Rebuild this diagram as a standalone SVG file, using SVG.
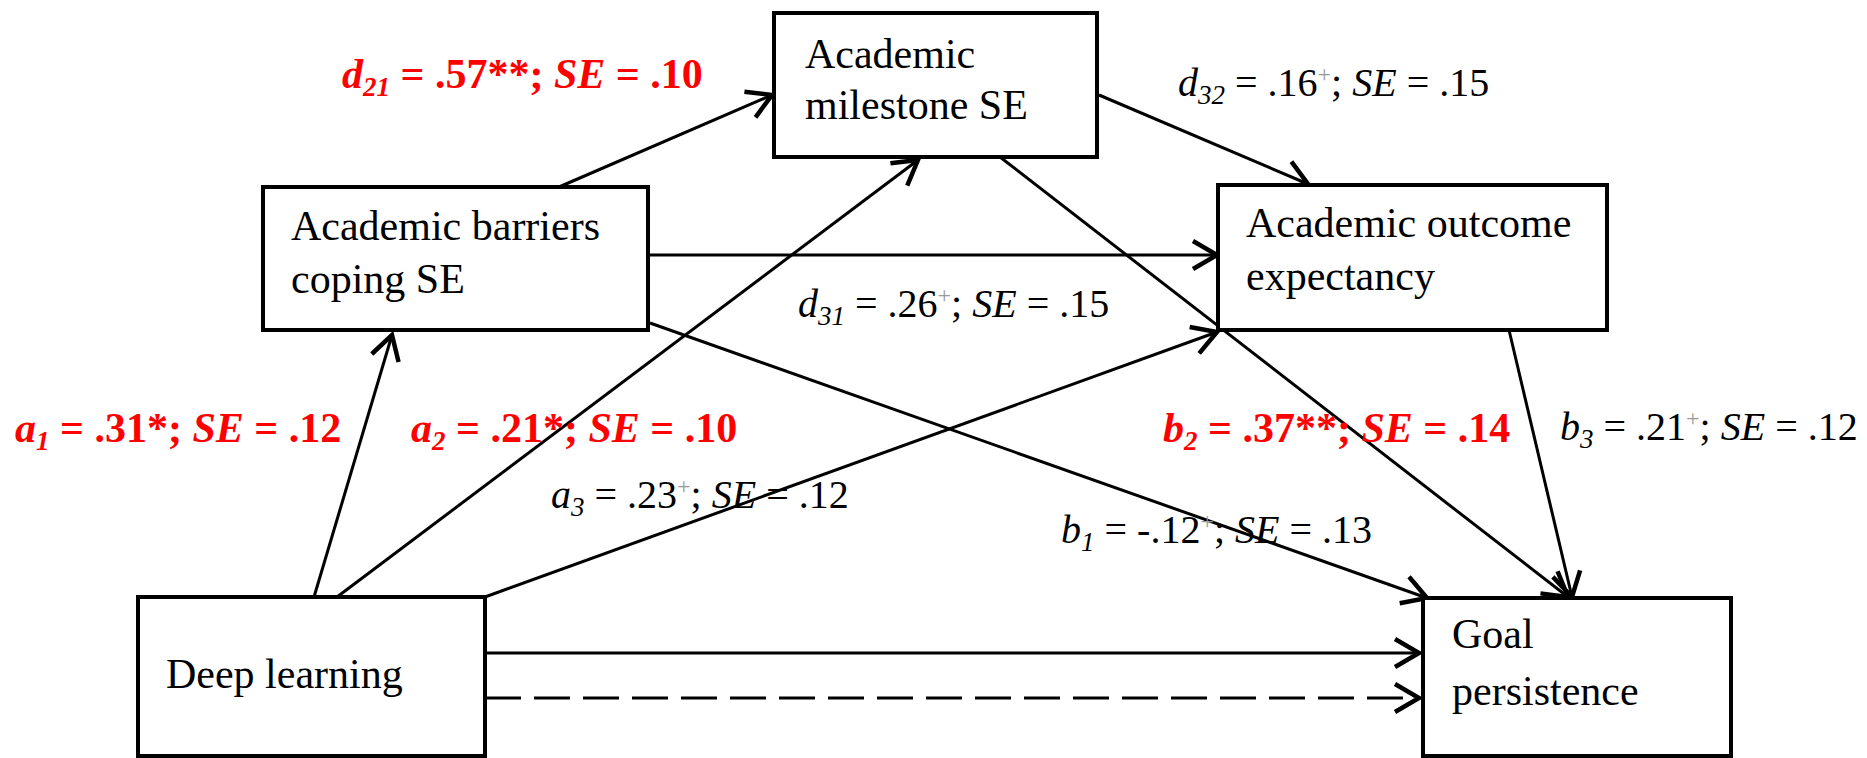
<svg xmlns="http://www.w3.org/2000/svg" width="1867" height="758" viewBox="0 0 1867 758">
<style>
.box{fill:#fff;stroke:#000;stroke-width:4}
.nt{font-family:"Liberation Serif","Times New Roman",serif;font-size:42px;fill:#000}
.lb{font-family:"Liberation Serif","Times New Roman",serif;font-size:40px;fill:#000}
.rd{font-family:"Liberation Serif","Times New Roman",serif;font-size:42px;fill:#ff0000;font-weight:bold}
.it{font-style:italic}
.sub{font-size:27px;font-style:italic}
.sup{font-size:24px;fill:#999}
.ln{stroke:#000;stroke-width:3;fill:none;marker-end:url(#ah)}
.ds{stroke-dasharray:36 13}
</style>
<defs>
<marker id="ah" markerUnits="userSpaceOnUse" markerWidth="34" markerHeight="34" refX="27" refY="17" orient="auto">
<path d="M3,3 L27,17 L3,31" fill="none" stroke="#000" stroke-width="4.5"/>
</marker>
</defs>
<rect width="1867" height="758" fill="#fff"/>
<g id="connectors">
<line class="ln" x1="314" y1="597" x2="392" y2="335"/>
<line class="ln" x1="337" y1="597" x2="918" y2="160"/>
<line class="ln" x1="485" y1="597" x2="1217" y2="332"/>
<line class="ln" x1="559" y1="187" x2="772" y2="95"/>
<line class="ln" x1="648" y1="255" x2="1217" y2="255"/>
<line class="ln" x1="650" y1="323" x2="1427" y2="598"/>
<line class="ln" x1="1099" y1="95" x2="1308" y2="184"/>
<line class="ln" x1="1000" y1="157" x2="1568" y2="597"/>
<line class="ln" x1="1509" y1="330" x2="1572" y2="597"/>
<line class="ln" x1="485" y1="653" x2="1419" y2="653"/>
<line class="ln ds" x1="485" y1="698" x2="1419" y2="698"/>
</g>
<g id="node-barriers">
<rect class="box" x="263" y="187" width="385" height="143"/>
<text class="nt" x="291" y="240">Academic barriers</text>
<text class="nt" x="291" y="293">coping SE</text>
</g>
<g id="node-milestone">
<rect class="box" x="774" y="13" width="323" height="144"/>
<text class="nt" x="805" y="68">Academic</text>
<text class="nt" x="805" y="119">milestone SE</text>
</g>
<g id="node-outcome">
<rect class="box" x="1218" y="185" width="389" height="145"/>
<text class="nt" x="1246" y="237">Academic outcome</text>
<text class="nt" x="1246" y="290">expectancy</text>
</g>
<g id="node-deep">
<rect class="box" x="138" y="597" width="347" height="159"/>
<text class="nt" x="166" y="688">Deep learning</text>
</g>
<g id="node-goal">
<rect class="box" x="1423" y="598" width="308" height="158"/>
<text class="nt" x="1452" y="648">Goal</text>
<text class="nt" x="1452" y="705">persistence</text>
</g>
<g id="labels">
<text class="rd" x="342" y="88"><tspan class="it">d</tspan><tspan class="sub" dy="8">21</tspan><tspan dy="-8"> = .57**; </tspan><tspan class="it">SE</tspan> = .10</text>
<text class="lb" x="1178" y="96"><tspan class="it">d</tspan><tspan class="sub" dy="8">32</tspan><tspan dy="-8"> = .16</tspan><tspan class="sup" dy="-14">+</tspan><tspan dy="14">; </tspan><tspan class="it">SE</tspan> = .15</text>
<text class="lb" x="798" y="317"><tspan class="it">d</tspan><tspan class="sub" dy="8">31</tspan><tspan dy="-8"> = .26</tspan><tspan class="sup" dy="-14">+</tspan><tspan dy="14">; </tspan><tspan class="it">SE</tspan> = .15</text>
<text class="rd" x="15" y="442"><tspan class="it">a</tspan><tspan class="sub" dy="8">1</tspan><tspan dy="-8"> = .31*;  </tspan><tspan class="it">SE</tspan> = .12</text>
<text class="rd" x="411" y="442"><tspan class="it">a</tspan><tspan class="sub" dy="8">2</tspan><tspan dy="-8"> = .21*; </tspan><tspan class="it">SE</tspan> = .10</text>
<text class="lb" x="551" y="508"><tspan class="it">a</tspan><tspan class="sub" dy="8">3</tspan><tspan dy="-8"> = .23</tspan><tspan class="sup" dy="-14">+</tspan><tspan dy="14">; </tspan><tspan class="it">SE</tspan> = .12</text>
<text class="rd" x="1163" y="442"><tspan class="it">b</tspan><tspan class="sub" dy="8">2</tspan><tspan dy="-8"> = .37**; </tspan><tspan class="it">SE</tspan> = .14</text>
<text class="lb" x="1061" y="543"><tspan class="it">b</tspan><tspan class="sub" dy="8">1</tspan><tspan dy="-8"> = -.12</tspan><tspan class="sup" dy="-14">+</tspan><tspan dy="14">; </tspan><tspan class="it">SE</tspan> = .13</text>
<text class="lb" x="1560" y="440"><tspan class="it">b</tspan><tspan class="sub" dy="8">3</tspan><tspan dy="-8"> = .21</tspan><tspan class="sup" dy="-14">+</tspan><tspan dy="14">; </tspan><tspan class="it">SE</tspan> = .12</text>
</g>
</svg>
